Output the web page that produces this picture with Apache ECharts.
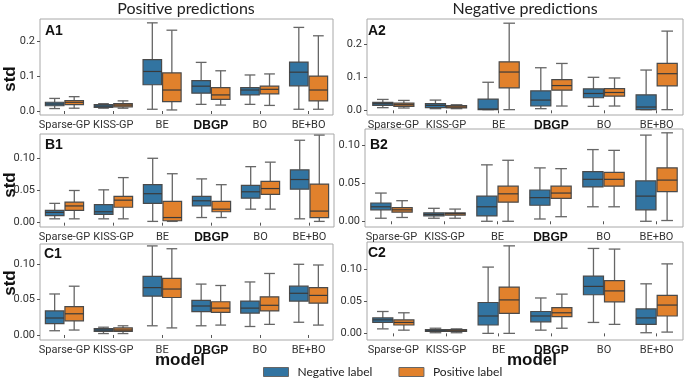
<!DOCTYPE html>
<html>
<head>
<meta charset="UTF-8">
<title>std boxplots</title>
<script src="https://cdn.jsdelivr.net/npm/echarts@6/dist/echarts.min.js"></script>
<style>
  html, body { margin: 0; padding: 0; background: #fff; }
  #main { width: 685px; height: 380px; }
</style>
</head>
<body>
<div id="main"></div>
<script type="text/javascript">
// categories (models)
var models = ['Sparse-GP', 'KISS-GP', 'BE', 'DBGP', 'BO', 'BE+BO'];

// each row: [lower whisker, Q1, median, Q3, upper whisker]
var a1Neg = [[0.007, 0.015, 0.020, 0.025, 0.036], [0.008, 0.010, 0.014, 0.018, 0.021], [0.005, 0.075, 0.113, 0.147, 0.252],
             [0.019, 0.051, 0.071, 0.087, 0.139], [0.019, 0.046, 0.060, 0.067, 0.103], [0.005, 0.072, 0.111, 0.140, 0.239]];
var a1Pos = [[0.008, 0.018, 0.025, 0.030, 0.041], [0.008, 0.012, 0.017, 0.021, 0.029], [0.003, 0.027, 0.060, 0.109, 0.231],
             [0.017, 0.033, 0.046, 0.067, 0.115], [0.016, 0.049, 0.062, 0.071, 0.106], [0.005, 0.029, 0.060, 0.100, 0.215]];

var a2Neg = [[0.008, 0.015, 0.020, 0.024, 0.033], [0.005, 0.008, 0.015, 0.020, 0.031], [0.002, 0.002, 0.004, 0.034, 0.085],
             [0.005, 0.013, 0.031, 0.059, 0.129], [0.012, 0.038, 0.051, 0.065, 0.100], [0.002, 0.002, 0.010, 0.047, 0.122]];
var a2Pos = [[0.007, 0.012, 0.017, 0.022, 0.030], [0.005, 0.007, 0.010, 0.014, 0.017], [0.002, 0.068, 0.116, 0.147, 0.264],
             [0.013, 0.061, 0.075, 0.093, 0.142], [0.013, 0.043, 0.054, 0.066, 0.098], [0.002, 0.074, 0.111, 0.142, 0.240]];

var b1Neg = [[0.006, 0.011, 0.016, 0.019, 0.030], [0.006, 0.013, 0.017, 0.028, 0.051], [0.002, 0.030, 0.045, 0.059, 0.100],
             [0.008, 0.026, 0.034, 0.041, 0.068], [0.021, 0.038, 0.048, 0.058, 0.087], [0.006, 0.052, 0.067, 0.082, 0.128]];
var b1Pos = [[0.006, 0.019, 0.026, 0.032, 0.050], [0.006, 0.024, 0.035, 0.041, 0.070], [0.002, 0.003, 0.008, 0.033, 0.076],
             [0.008, 0.017, 0.021, 0.033, 0.059], [0.021, 0.044, 0.053, 0.064, 0.094], [0.002, 0.008, 0.018, 0.060, 0.136]];

var b2Neg = [[0.004, 0.015, 0.019, 0.024, 0.037], [0.004, 0.007, 0.009, 0.011, 0.017], [0.000, 0.007, 0.019, 0.033, 0.074],
             [0.003, 0.021, 0.031, 0.041, 0.070], [0.019, 0.045, 0.055, 0.065, 0.094], [0.000, 0.015, 0.033, 0.053, 0.113]];
var b2Pos = [[0.005, 0.012, 0.015, 0.018, 0.027], [0.004, 0.008, 0.010, 0.011, 0.016], [0.000, 0.025, 0.036, 0.046, 0.080],
             [0.006, 0.030, 0.037, 0.046, 0.069], [0.019, 0.046, 0.055, 0.064, 0.093], [0.001, 0.039, 0.054, 0.070, 0.116]];

var c1Neg = [[0.006, 0.016, 0.024, 0.034, 0.058], [0.002, 0.005, 0.007, 0.009, 0.011], [0.013, 0.055, 0.067, 0.083, 0.126],
             [0.013, 0.033, 0.041, 0.049, 0.072], [0.012, 0.031, 0.038, 0.048, 0.075], [0.018, 0.048, 0.059, 0.069, 0.100]];
var c1Pos = [[0.007, 0.020, 0.030, 0.040, 0.069], [0.002, 0.005, 0.007, 0.010, 0.013], [0.010, 0.053, 0.065, 0.080, 0.122],
             [0.014, 0.032, 0.038, 0.047, 0.070], [0.015, 0.034, 0.042, 0.054, 0.087], [0.014, 0.045, 0.056, 0.067, 0.099]];

var c2Neg = [[0.007, 0.017, 0.021, 0.024, 0.034], [0.001, 0.003, 0.004, 0.006, 0.008], [0.000, 0.013, 0.027, 0.048, 0.103],
             [0.005, 0.018, 0.027, 0.034, 0.055], [0.017, 0.060, 0.073, 0.089, 0.132], [0.001, 0.014, 0.024, 0.038, 0.077]];
var c2Pos = [[0.005, 0.013, 0.017, 0.021, 0.032], [0.001, 0.003, 0.004, 0.006, 0.007], [0.000, 0.031, 0.052, 0.072, 0.136],
             [0.008, 0.026, 0.032, 0.040, 0.061], [0.014, 0.049, 0.066, 0.082, 0.131], [0.002, 0.027, 0.044, 0.059, 0.108]];

// y tick labels
var ticksA = [0, 0.1, 0.2];
var ticksBC = [0, 0.05, 0.10];

var blue = '#3274a1';
var orange = '#e1812c';
var edge = '#4a4a4a';
var whisk = '#666666';
var tickFont = 'Roboto, "Liberation Sans", Arial, sans-serif';
var boldFont = '"Liberation Sans", Arial, sans-serif';

// panel layout: grid box + y range
var panels = [
  { name: 'A1', neg: a1Neg, pos: a1Pos, ticks: ticksA,  dec: 1, left: 40,  top: 19,  width: 293, height: 96, min: -0.0114, max: 0.263 },
  { name: 'A2', neg: a2Neg, pos: a2Pos, ticks: ticksA,  dec: 1, left: 367, top: 19,  width: 316, height: 96, min: -0.0142, max: 0.2767 },
  { name: 'B1', neg: b1Neg, pos: b1Pos, ticks: ticksBC, dec: 2, left: 40,  top: 134, width: 294, height: 93, min: -0.0067, max: 0.1377 },
  { name: 'B2', neg: b2Neg, pos: b2Pos, ticks: ticksBC, dec: 2, left: 365, top: 129, width: 318, height: 98, min: -0.0075, max: 0.121 },
  { name: 'C1', neg: c1Neg, pos: c1Pos, ticks: ticksBC, dec: 2, left: 40,  top: 244, width: 293, height: 96, min: -0.0071, max: 0.1287 },
  { name: 'C2', neg: c2Neg, pos: c2Pos, ticks: ticksBC, dec: 2, left: 367, top: 242, width: 316, height: 98, min: -0.0103, max: 0.142 }
];

function boxRenderer(side, color) {
  return function (params, api) {
    var x = api.value(0);
    var band = api.size([1, 0])[0];
    var w = band * 0.4 - 1;
    var cx = api.coord([x, 0])[0] + side * band * 0.2;
    var yLo = api.coord([x, api.value(1)])[1];
    var yQ1 = api.coord([x, api.value(2)])[1];
    var yMd = api.coord([x, api.value(3)])[1];
    var yQ3 = api.coord([x, api.value(4)])[1];
    var yHi = api.coord([x, api.value(5)])[1];
    var cap = w * 0.29;
    var ls = { stroke: whisk, lineWidth: 1.3 };
    return {
      type: 'group',
      children: [
        { type: 'line', shape: { x1: cx, y1: yQ1, x2: cx, y2: yLo }, style: ls },
        { type: 'line', shape: { x1: cx, y1: yQ3, x2: cx, y2: yHi }, style: ls },
        { type: 'line', shape: { x1: cx - cap, y1: yLo, x2: cx + cap, y2: yLo }, style: ls },
        { type: 'line', shape: { x1: cx - cap, y1: yHi, x2: cx + cap, y2: yHi }, style: ls },
        { type: 'rect', shape: { x: cx - w / 2, y: yQ3, width: w, height: Math.max(yQ1 - yQ3, 1) },
          style: { fill: color, stroke: edge, lineWidth: 1.2 } },
        { type: 'line', shape: { x1: cx - w / 2, y1: yMd, x2: cx + w / 2, y2: yMd },
          style: { stroke: '#3a3a3a', lineWidth: 1.2 } }
      ]
    };
  };
}

var grids = [], xAxes = [], yAxes = [], series = [];
panels.forEach(function (p, i) {
  grids.push({ left: p.left, top: p.top, width: p.width, height: p.height,
               show: true, borderColor: '#a8a8a8', borderWidth: 1, backgroundColor: '#fff' });
  xAxes.push({
    type: 'category', gridIndex: i, data: models,
    axisLine: { show: false },
    axisTick: { show: true, alignWithLabel: true, length: 3, lineStyle: { color: '#555' } },
    axisLabel: {
      interval: 0, margin: 5, color: '#333', fontFamily: tickFont, fontSize: 11,
      formatter: function (v) { return v === 'DBGP' ? '{b|DBGP}' : v; },
      rich: { b: { fontFamily: boldFont, fontWeight: 'bold', fontSize: 12, color: '#111' } }
    }
  });
  yAxes.push({
    type: 'value', gridIndex: i, min: p.min, max: p.max,
    splitLine: { show: false },
    axisLine: { show: false },
    axisTick: { show: true, length: 3, customValues: p.ticks, lineStyle: { color: '#555' } },
    axisLabel: {
      customValues: p.ticks, margin: 5, color: '#333', fontFamily: tickFont, fontSize: 11,
      formatter: (function (d) { return function (v) { return v.toFixed(d); }; })(p.dec)
    }
  });
  [[p.neg, -1, blue, 'Negative label'], [p.pos, 1, orange, 'Positive label']].forEach(function (s) {
    series.push({
      type: 'custom', name: s[3], xAxisIndex: i, yAxisIndex: i,
      itemStyle: { color: s[2] },
      renderItem: boxRenderer(s[1], s[2]),
      encode: { x: 0, y: [1, 2, 3, 4, 5] },
      data: s[0].map(function (r, k) { return [k].concat(r); })
    });
  });
});

function txt(x, y, text, font, extra) {
  var st = { text: text, font: font, fill: '#111', align: 'center', verticalAlign: 'middle',
             textAlign: 'center', textVerticalAlign: 'middle' };
  for (var k in extra) st[k] = extra[k];
  return { type: 'text', x: x, y: y, style: st, z: 10 };
}

var labelPos = { A1: [45, 31.5], A2: [368, 31.5], B1: [45, 145.5], B2: [370, 145.5], C1: [44, 254], C2: [368, 253.5] };
var graphics = [
  txt(186, 9, 'Positive predictions', '16px Lato', { fill: '#222' }),
  txt(525, 9, 'Negative predictions', '16px Lato', { fill: '#222' }),
  txt(180, 360, 'model', 'bold 17px ' + boldFont, {}),
  txt(532, 360, 'model', 'bold 17px ' + boldFont, {})
];
[79, 185, 283].forEach(function (y) {
  var t = txt(10, y, 'std', 'bold 17px ' + boldFont, {});
  t.rotation = Math.PI / 2;
  graphics.push(t);
});
panels.forEach(function (p) {
  var pos = labelPos[p.name];
  graphics.push(txt(pos[0], pos[1], p.name, 'bold 14px ' + boldFont, { align: 'left', textAlign: 'left' }));
});

var myChart = echarts.init(document.getElementById('main'), null, { renderer: 'canvas' });
myChart.setOption({
  animation: false,
  backgroundColor: '#fff',
  grid: grids,
  xAxis: xAxes,
  yAxis: yAxes,
  legend: {
    data: ['Negative label', 'Positive label'],
    left: 258, top: 361, icon: 'rect', itemWidth: 25, itemHeight: 9, itemGap: 26,
    itemStyle: { borderColor: '#666', borderWidth: 1 },
    textStyle: { fontFamily: 'Lato', fontSize: 12, color: '#222', padding: [0, 0, 0, 4] }
  },
  graphic: graphics,
  series: series
});
</script>
</body>
</html>
